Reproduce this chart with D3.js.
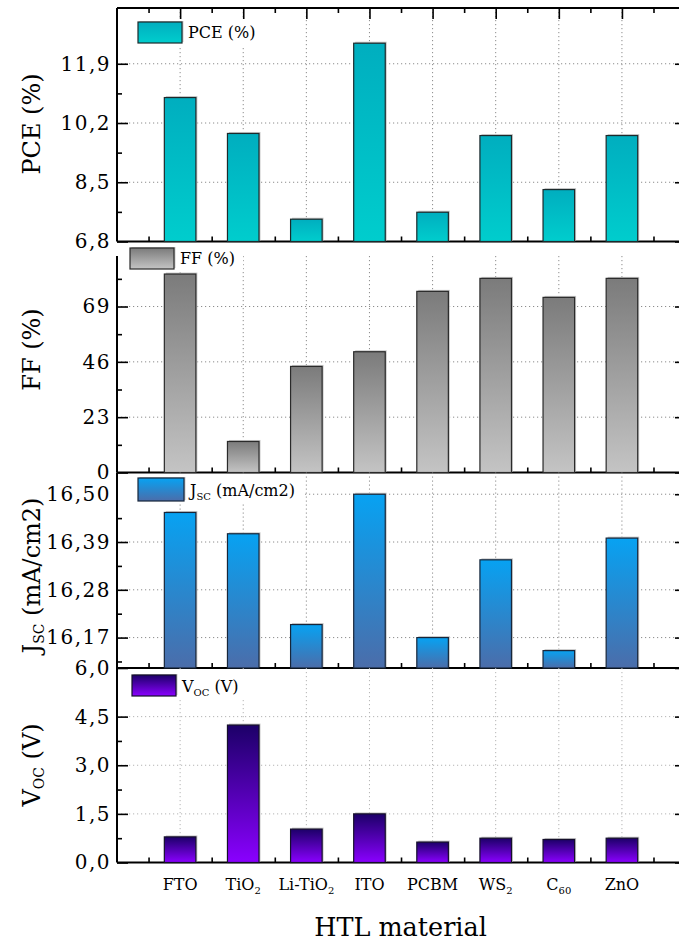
<!DOCTYPE html>
<html>
<head>
<meta charset="utf-8">
<script src="https://cdn.jsdelivr.net/npm/d3@7"></script>
<style>
  body { margin: 0; background: #fff; }
  svg { display: block; }
  text { font-family: "DejaVu Serif", serif; fill: #000; }
</style>
</head>
<body>
<svg id="chart" width="679" height="943"></svg>
<script>
// HTL materials (index 1..8 on the shared x axis); "_" marks a subscript
const categories = ["FTO", "TiO_2", "Li-TiO_2", "ITO", "PCBM", "WS_2", "C_60", "ZnO"];

// Device parameters per HTL material
const pceValues = [10.93, 9.90, 7.44, 12.49, 7.64, 9.84, 8.29, 9.84];
const ffValues  = [82.5, 12.9, 44.1, 50.2, 75.3, 80.7, 72.8, 80.7];
const jscValues = [16.458, 16.409, 16.200, 16.500, 16.170, 16.349, 16.140, 16.399];
const vocValues = [0.79, 4.24, 1.03, 1.50, 0.63, 0.75, 0.71, 0.75];

// Tick values and their labels (comma decimal separator)
const pceTicks = [6.8, 8.5, 10.2, 11.9];
const pceTickLabels = ["6,8", "8,5", "10,2", "11,9"];
const ffTicks = [0, 23, 46, 69];
const ffTickLabels = ["0", "23", "46", "69"];
const jscTicks = [16.17, 16.28, 16.39, 16.50];
const jscTickLabels = ["16,17", "16,28", "16,39", "16,50"];
const vocTicks = [0, 1.5, 3.0, 4.5, 6.0];
const vocTickLabels = ["0,0", "1,5", "3,0", "4,5", "6,0"];

// Series names (used for axis titles and legends)
const seriesNames = ["PCE (%)", "FF (%)", "J_{SC} (mA/cm2)", "V_{OC} (V)"];
const xTitle = "HTL material";

// ---- layout ----
const svg = d3.select("#chart");
const left = 117, right = 680;
const x = d3.scaleLinear().domain([0, 8.92]).range([left, right]);
const barW = x(0.5) - x(0);

function midpoints(t, extra) {
  const out = [];
  for (let i = 0; i < t.length - 1; i++) out.push((t[i] + t[i + 1]) / 2);
  if (extra !== undefined) out.push(extra);
  return out;
}

const panels = [
  { name: seriesNames[0], values: pceValues, domain: [6.8, 13.5], top: 8, bottom: 241.5,
    ticks: pceTicks, labels: pceTickLabels, minor: midpoints(pceTicks, 12.75),
    colors: ["#00aebf", "#00cdcd"], stroke: "#1c2a2c", titleY: 124, grid: "#8c8c8c",
    legend: { x: 138, y: 22, w: 44, h: 21, tx: 188, ty: 38 }, topAxis: true },
  { name: seriesNames[1], values: ffValues, domain: [0, 90], top: 256, bottom: 472.5,
    ticks: ffTicks, labels: ffTickLabels, minor: midpoints(ffTicks, 80.5),
    colors: ["#7b7b7b", "#c4c4c4"], stroke: "#2a2a2a", titleY: 349.5, grid: "#8c8c8c",
    legend: { x: 130, y: 248, w: 44, h: 21, tx: 180, ty: 264 } },
  { name: seriesNames[2], values: jscValues, domain: [16.1, 16.55], top: 472.5, bottom: 668,
    ticks: jscTicks, labels: jscTickLabels, minor: [16.115].concat(midpoints(jscTicks)),
    colors: ["#07a2f2", "#4b6daa"], stroke: "#17263a", titleY: 575.5, grid: "#8c8c8c",
    legend: { x: 138, y: 478, w: 46, h: 23, tx: 190, ty: 496 } },
  { name: seriesNames[3], values: vocValues, domain: [0, 6], top: 668, bottom: 862.5,
    ticks: vocTicks, labels: vocTickLabels, minor: midpoints(vocTicks),
    colors: ["#1c0068", "#8a00ff"], stroke: "#150f2a", titleY: 765, grid: "#b4b4b4",
    legend: { x: 132, y: 675, w: 44, h: 21, tx: 182, ty: 692 } }
];

// write a string with "_x" / "_{xy}" subscripts into a text element
function richText(sel, str, subSize, shift) {
  const re = /_\{([^}]*)\}|_(\w+)/g;
  let last = 0, m, pending = 0;
  while ((m = re.exec(str))) {
    if (m.index > last) {
      sel.append("tspan").attr("dy", pending ? -pending : null).text(str.slice(last, m.index));
      pending = 0;
    }
    sel.append("tspan").attr("font-size", subSize).attr("dy", shift).text(m[1] || m[2]);
    pending = shift;
    last = re.lastIndex;
  }
  if (last < str.length) {
    sel.append("tspan").attr("dy", pending ? -pending : null).text(str.slice(last));
  }
  return sel;
}

const defs = svg.append("defs");
panels.forEach((p, k) => {
  const g = defs.append("linearGradient").attr("id", "grad" + k)
    .attr("x1", 0).attr("y1", 0).attr("x2", 0).attr("y2", 1);
  g.append("stop").attr("offset", 0).attr("stop-color", p.colors[0]);
  g.append("stop").attr("offset", 1).attr("stop-color", p.colors[1]);
});

const catIdx = categories.map((c, i) => i + 1);
const halfIdx = d3.range(0.5, 9, 1);

panels.forEach((p, k) => {
  const y = d3.scaleLinear().domain(p.domain).range([p.bottom, p.top]);
  const g = svg.append("g");

  // dotted grid
  g.append("g").selectAll("line").data(p.ticks.filter(t => t > p.domain[0] && t < p.domain[1]))
    .join("line")
    .attr("x1", left).attr("x2", right).attr("y1", d => y(d)).attr("y2", d => y(d))
    .attr("stroke", p.grid).attr("stroke-width", 1).attr("stroke-dasharray", "1.2,2.8");
  g.append("g").selectAll("line").data(catIdx)
    .join("line")
    .attr("x1", d => x(d)).attr("x2", d => x(d)).attr("y1", p.top).attr("y2", p.bottom)
    .attr("stroke", p.grid).attr("stroke-width", 1).attr("stroke-dasharray", "1.2,2.8");

  // bottom axis line and ticks (behind the bars)
  const bMaj = g.append("g").attr("transform", `translate(0,${p.bottom})`)
    .call(d3.axisBottom(x).tickValues(catIdx).tickSize(-11).tickFormat(""));
  const bMin = g.append("g").attr("transform", `translate(0,${p.bottom})`)
    .call(d3.axisBottom(x).tickValues(halfIdx).tickSize(-5).tickFormat(""));
  [bMaj, bMin].forEach(a => {
    a.select(".domain").remove();
    a.selectAll("line").attr("stroke", "#000").attr("stroke-width", 1.6);
  });
  g.append("line").attr("x1", left).attr("x2", right).attr("y1", p.bottom).attr("y2", p.bottom)
    .attr("stroke", "#000").attr("stroke-width", 2);

  // bars with a soft grey edge
  g.append("g").selectAll("rect").data(p.values).join("rect")
    .attr("x", (d, i) => x(i + 1) - barW / 2 + 1.5)
    .attr("y", d => y(d) - 1.5)
    .attr("width", barW)
    .attr("height", d => p.bottom - y(d) + 0.5)
    .attr("fill", "#c9c9c9");
  g.append("g").selectAll("rect").data(p.values).join("rect")
    .attr("x", (d, i) => x(i + 1) - barW / 2)
    .attr("y", d => y(d))
    .attr("width", barW)
    .attr("height", d => p.bottom - y(d))
    .attr("fill", `url(#grad${k})`)
    .attr("stroke", p.stroke).attr("stroke-width", 1.2);

  // left axis: inward ticks, labels outside
  const lMaj = g.append("g").attr("transform", `translate(${left},0)`)
    .call(d3.axisLeft(y).tickValues(p.ticks).tickSize(-11).tickPadding(6)
      .tickFormat((d, i) => p.labels[i]));
  const lMin = g.append("g").attr("transform", `translate(${left},0)`)
    .call(d3.axisLeft(y).tickValues(p.minor).tickSize(-5).tickFormat(""));
  [lMaj, lMin].forEach(a => {
    a.select(".domain").remove();
    a.selectAll("line").attr("stroke", "#000").attr("stroke-width", 1.6);
  });
  lMaj.selectAll("text")
    .attr("font-family", "DejaVu Serif").attr("font-size", 20)
    .attr("letter-spacing", "1.5px").attr("fill", "#000");

  // right axis ticks
  const rMaj = g.append("g").attr("transform", `translate(${right},0)`)
    .call(d3.axisRight(y).tickValues(p.ticks).tickSize(-5).tickFormat(""));
  rMaj.select(".domain").remove();
  rMaj.selectAll("line").attr("stroke", "#000").attr("stroke-width", 1.6);

  // top axis (first panel only)
  if (p.topAxis) {
    const tMaj = g.append("g").attr("transform", `translate(0,${p.top})`)
      .call(d3.axisTop(x).tickValues(catIdx).tickSize(-11).tickFormat(""));
    const tMin = g.append("g").attr("transform", `translate(0,${p.top})`)
      .call(d3.axisTop(x).tickValues(halfIdx).tickSize(-5).tickFormat(""));
    [tMaj, tMin].forEach(a => {
      a.select(".domain").remove();
      a.selectAll("line").attr("stroke", "#000").attr("stroke-width", 1.6);
    });
    g.append("line").attr("x1", left).attr("x2", right).attr("y1", p.top).attr("y2", p.top)
      .attr("stroke", "#000").attr("stroke-width", 2);
  }

  // left spine
  g.append("line").attr("x1", left).attr("x2", left).attr("y1", p.top).attr("y2", p.bottom)
    .attr("stroke", "#000").attr("stroke-width", 2);

  // axis title
  const t = g.append("text")
    .attr("transform", `translate(40,${p.titleY}) rotate(-90)`)
    .attr("text-anchor", "middle").attr("font-size", 24);
  richText(t, p.name, 14, 4);

  // legend
  const L = p.legend;
  const lg = g.append("g");
  lg.append("rect").attr("x", L.x + 1.5).attr("y", L.y - 1).attr("width", L.w).attr("height", L.h)
    .attr("fill", "#c9c9c9");
  lg.append("rect").attr("x", L.x).attr("y", L.y).attr("width", L.w).attr("height", L.h)
    .attr("fill", `url(#grad${k})`).attr("stroke", p.stroke).attr("stroke-width", 1.2);
  const lt = lg.append("text").attr("x", L.tx).attr("y", L.ty).attr("font-size", 16);
  richText(lt, p.name, 10, 4);
  const bb = lt.node().getBBox();
  lg.insert("rect", ":first-child")
    .attr("x", left + 1).attr("y", L.y - 3)
    .attr("width", bb.x + bb.width + 8 - (left + 1)).attr("height", L.h + 6)
    .attr("fill", "#fff");
});

// category labels under the last panel
const lastBottom = panels[panels.length - 1].bottom;
svg.append("g").selectAll("text").data(categories).join("text")
  .attr("x", (d, i) => x(i + 1))
  .attr("y", lastBottom + 27)
  .attr("text-anchor", "middle")
  .attr("font-size", 16)
  .each(function (d) { richText(d3.select(this), d, 10, 4); });

svg.append("text")
  .attr("x", (left + right) / 2 + 2).attr("y", 936)
  .attr("text-anchor", "middle").attr("font-size", 25.5)
  .text(xTitle);
</script>
</body>
</html>
